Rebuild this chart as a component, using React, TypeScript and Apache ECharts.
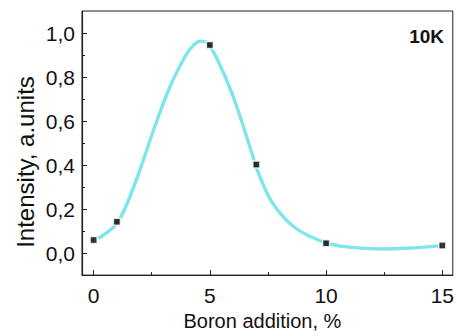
import React, { useEffect, useRef } from "react";
import * as echarts from "echarts";

const pointX = [0, 1, 5, 7, 10, 15];
const pointY = [0.059, 0.142, 0.945, 0.402, 0.045, 0.035];

const curveX = [0.2, 0.6, 1.0, 1.4, 2.0, 2.55, 3.26, 3.97, 4.3, 4.6, 4.9, 5.54, 6.11, 6.82, 7.03, 7.68, 8.68, 9.96, 11.0, 12.24, 13.5, 14.94];
const curveY = [0.067, 0.095, 0.135, 0.215, 0.38, 0.55, 0.75, 0.9, 0.945, 0.963, 0.955, 0.83, 0.68, 0.45, 0.38, 0.23, 0.114, 0.048, 0.027, 0.019, 0.022, 0.034];

const xMajorTicks = [0, 5, 10, 15];
const xMinorTicks = [2.5, 7.5, 12.5];
const yMajorTicks = [0, 0.2, 0.4, 0.6, 0.8, 1.0];
const yMinorTicks = [0.1, 0.3, 0.5, 0.7, 0.9];

const FONT = "Liberation Sans, Arial, sans-serif";

export default function App() {
  const ref = useRef<HTMLDivElement>(null);
  useEffect(() => {
    if (!ref.current) return;
    const chart = echarts.init(ref.current, null, { renderer: "svg" });
    const axisColor = "#222";
    const xBase = { type: "value", min: -0.5, max: 15.45, splitLine: { show: false } };
    const yBase = { type: "value", min: -0.1, max: 1.1, splitLine: { show: false } };
    chart.setOption({
      animation: false,
      grid: { left: 82, top: 11, width: 373, height: 274, show: true, borderColor: axisColor, borderWidth: 1 },
      xAxis: [
        {
          ...xBase,
          name: "Boron addition, %",
          nameLocation: "middle",
          nameGap: 31,
          nameTextStyle: { fontFamily: FONT, fontSize: 20, color: "#111", padding: [0, 10, 0, 0] },
          axisLine: { show: true, onZero: false, lineStyle: { color: axisColor, width: 1.2 } },
          axisTick: { show: true, inside: true, length: 5, customValues: xMajorTicks, lineStyle: { color: axisColor } },
          axisLabel: { customValues: xMajorTicks, fontFamily: FONT, fontSize: 21, color: "#111", margin: 10 },
        },
        {
          ...xBase,
          position: "bottom",
          axisLine: { show: false, onZero: false },
          axisTick: { show: true, inside: true, length: 3, customValues: xMinorTicks, lineStyle: { color: axisColor } },
          axisLabel: { show: false },
        },
      ],
      yAxis: [
        {
          ...yBase,
          axisLine: { show: true, onZero: false, lineStyle: { color: axisColor, width: 1.2 } },
          axisTick: { show: true, inside: true, length: 5, customValues: yMajorTicks, lineStyle: { color: axisColor } },
          axisLabel: {
            customValues: yMajorTicks,
            fontFamily: FONT,
            fontSize: 21,
            color: "#111",
            margin: 7,
            formatter: (v: number) => v.toFixed(1).replace(".", ","),
          },
        },
        {
          ...yBase,
          position: "left",
          axisLine: { show: false, onZero: false },
          axisTick: { show: true, inside: true, length: 3, customValues: yMinorTicks, lineStyle: { color: axisColor } },
          axisLabel: { show: false },
        },
      ],
      graphic: [
        {
          type: "text",
          x: 25,
          y: 162,
          rotation: Math.PI / 2,
          style: { text: "Intensity, a.units", font: `24px ${FONT}`, fill: "#111", align: "center", verticalAlign: "middle" },
        },
        {
          type: "text",
          right: 13,
          top: 27,
          style: { text: "10K", font: `bold 19px ${FONT}`, fill: "#111" },
        },
      ],
      series: [
        {
          type: "line",
          data: curveX.map((x, i) => [x, curveY[i]]),
          smooth: 0.35,
          showSymbol: false,
          lineStyle: { color: "#7ee6ea", width: 3.4 },
          z: 2,
        },
        {
          type: "scatter",
          data: pointX.map((x, i) => [x, pointY[i]]),
          symbol: "rect",
          symbolSize: 7,
          itemStyle: { color: "#000", borderColor: "#fff", borderWidth: 1.5 },
          z: 3,
        },
      ],
    });
    return () => chart.dispose();
  }, []);
  return <div ref={ref} style={{ width: 457, height: 336, position: "absolute", left: 0, top: 0 }} />;
}
